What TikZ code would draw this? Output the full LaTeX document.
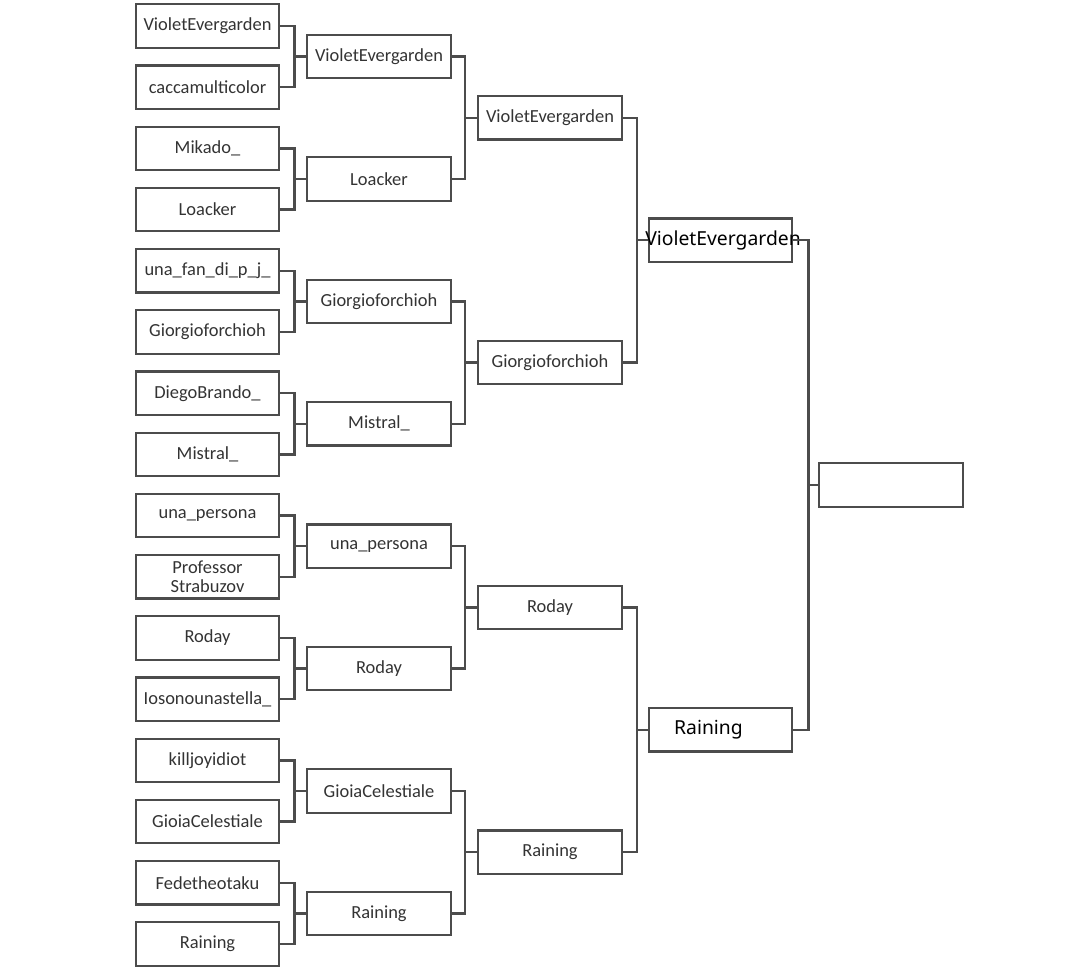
\documentclass[tikz,border=0pt]{standalone}
\usepackage{fontspec}
\setmainfont{Carlito}
\newfontfamily\bigfont{Noto Sans}
\usetikzlibrary{arrows}
\usetikzlibrary{shapes}

\begin{document}
\begin{tikzpicture}[x=0.02cm, y=-0.02cm,
  box/.style={draw=black!70, line width=1.3pt, minimum width=2.87cm, minimum height=0.87cm,
    inner sep=1pt, text=black!80, align=center, font=\fontsize{10.5}{11}\selectfont},
  finalbox/.style={box, text=black, font=\bigfont\fontsize{11}{12}\selectfont},
  link/.style={draw=black!70, line width=1.3pt}]
\useasboundingbox (0,0) rectangle (1080,968);
%
\node[box] (p1) at (207.5, 26.0) {VioletEvergarden};
\node[box] (p2) at (207.5, 87.2) {caccamulticolor};
\node[box] (p3) at (207.5, 148.4) {Mikado\_};
\node[box] (p4) at (207.5, 209.6) {Loacker};
\node[box] (p5) at (207.5, 270.8) {una\_fan\_di\_p\_j\_};
\node[box] (p6) at (207.5, 332.0) {Giorgioforchioh};
\node[box] (p7) at (207.5, 393.2) {DiegoBrando\_};
\node[box] (p8) at (207.5, 454.4) {Mistral\_};
\node[box] (p9) at (207.5, 515.6) {una\_persona};
\node[box] (p10) at (207.5, 576.8) {Professor\\Strabuzov};
\node[box] (p11) at (207.5, 638.0) {Roday};
\node[box] (p12) at (207.5, 699.2) {Iosonounastella\_};
\node[box] (p13) at (207.5, 760.4) {killjoyidiot};
\node[box] (p14) at (207.5, 821.6) {GioiaCelestiale};
\node[box] (p15) at (207.5, 882.8) {Fedetheotaku};
\node[box] (p16) at (207.5, 944.0) {Raining};
%
\node[box] (qf1) at (379, 56.6) {VioletEvergarden};
\node[box] (qf2) at (379, 179.0) {Loacker};
\node[box] (qf3) at (379, 301.4) {Giorgioforchioh};
\node[box] (qf4) at (379, 423.8) {Mistral\_};
\node[box] (qf5) at (379, 546.2) {una\_persona};
\node[box] (qf6) at (379, 668.6) {Roday};
\node[box] (qf7) at (379, 791.0) {GioiaCelestiale};
\node[box] (qf8) at (379, 913.4) {Raining};
%
\node[box] (sf1) at (550, 117.8) {VioletEvergarden};
\node[box] (sf2) at (550, 362.6) {Giorgioforchioh};
\node[box] (sf3) at (550, 607.4) {Roday};
\node[box] (sf4) at (550, 852.2) {Raining};
%
\node[finalbox] (fin1) at (720.5, 240.2) {\makebox[0pt]{\hspace{0.1cm}VioletEvergarden}};
\node[finalbox] (fin2) at (720.5, 729.8) {\makebox[0pt]{Raining\hspace{0.48cm}}};
%
\node[box] (champ) at (891, 485) {};
%
\draw[link] (p1.east) -- ++(14,0) |- (qf1.west);
\draw[link] (p2.east) -- ++(14,0) |- (qf1.west);
\draw[link] (p3.east) -- ++(14,0) |- (qf2.west);
\draw[link] (p4.east) -- ++(14,0) |- (qf2.west);
\draw[link] (p5.east) -- ++(14,0) |- (qf3.west);
\draw[link] (p6.east) -- ++(14,0) |- (qf3.west);
\draw[link] (p7.east) -- ++(14,0) |- (qf4.west);
\draw[link] (p8.east) -- ++(14,0) |- (qf4.west);
\draw[link] (p9.east) -- ++(14,0) |- (qf5.west);
\draw[link] (p10.east) -- ++(14,0) |- (qf5.west);
\draw[link] (p11.east) -- ++(14,0) |- (qf6.west);
\draw[link] (p12.east) -- ++(14,0) |- (qf6.west);
\draw[link] (p13.east) -- ++(14,0) |- (qf7.west);
\draw[link] (p14.east) -- ++(14,0) |- (qf7.west);
\draw[link] (p15.east) -- ++(14,0) |- (qf8.west);
\draw[link] (p16.east) -- ++(14,0) |- (qf8.west);
%
\draw[link] (qf1.east) -- ++(13,0) |- (sf1.west);
\draw[link] (qf2.east) -- ++(13,0) |- (sf1.west);
\draw[link] (qf3.east) -- ++(13,0) |- (sf2.west);
\draw[link] (qf4.east) -- ++(13,0) |- (sf2.west);
\draw[link] (qf5.east) -- ++(13,0) |- (sf3.west);
\draw[link] (qf6.east) -- ++(13,0) |- (sf3.west);
\draw[link] (qf7.east) -- ++(13,0) |- (sf4.west);
\draw[link] (qf8.east) -- ++(13,0) |- (sf4.west);
%
\draw[link] (sf1.east) -- ++(14,0) |- (fin1.west);
\draw[link] (sf2.east) -- ++(14,0) |- (fin1.west);
\draw[link] (sf3.east) -- ++(14,0) |- (fin2.west);
\draw[link] (sf4.east) -- ++(14,0) |- (fin2.west);
%
\draw[link] (fin1.east) -- ++(15,0) |- (champ.west);
\draw[link] (fin2.east) -- ++(15,0) |- (champ.west);
\end{tikzpicture}
\end{document}
